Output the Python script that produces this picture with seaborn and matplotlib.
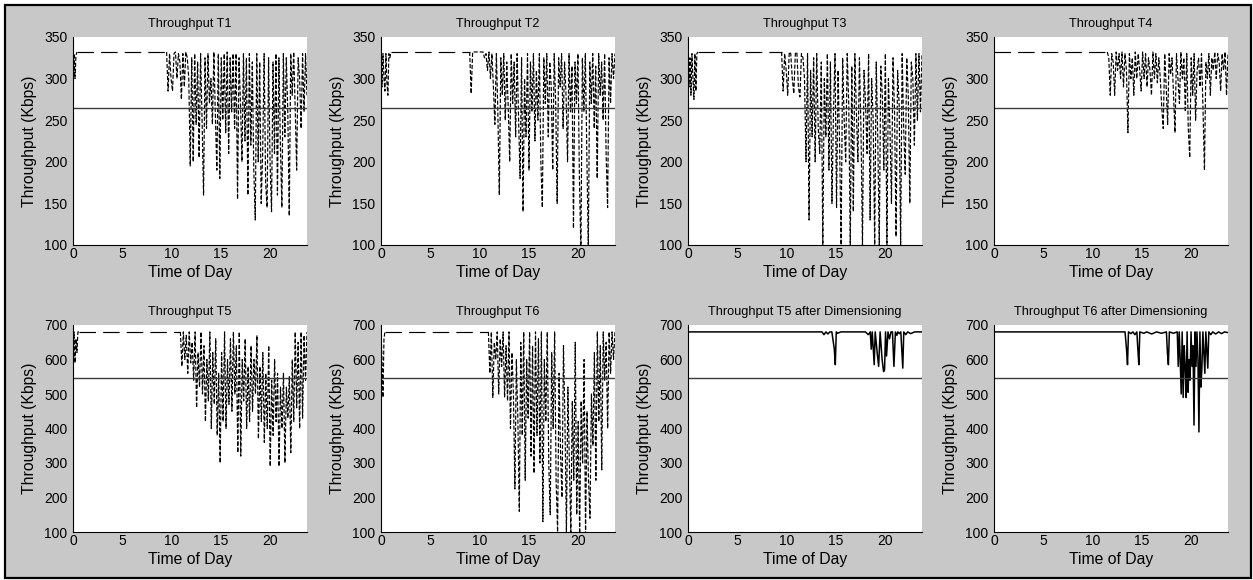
import numpy as np
import pandas as pd
import matplotlib
matplotlib.use("Agg")
import matplotlib.pyplot as plt
from matplotlib import font_manager
from matplotlib.patches import Rectangle
import seaborn as sns

# ---------------- data ----------------
XMAX = 23.75
TOP_BASE, TOP_LIMIT = 332, 265
BOT_BASE, BOT_LIMIT = 680, 545

titles = ["Throughput T1", "Throughput T2", "Throughput T3", "Throughput T4",
          "Throughput T5", "Throughput T6",
          "Throughput T5 after Dimensioning", "Throughput T6 after Dimensioning"]
xticks = [0, 5, 10, 15, 20]
top_yticks = [100, 150, 200, 250, 300, 350]
bot_yticks = [100, 200, 300, 400, 500, 600, 700]

# early-morning readings (every 0.1 h from midnight)
early_T1 = [280, 330, 300, 328, 332]
early_T2 = [330, 290, 330, 300, 285, 330, 295, 280, 330, 325, 332]
early_T3 = [330, 290, 325, 280, 330, 300, 275, 330, 285, 330, 332]
early_T4 = [332]
early_T5 = [600, 680, 590, 660, 620, 680, 680]
early_T6 = [680, 600, 490, 660, 680]

# busy-period readings (evenly spaced from start hour to end of day)
start_T1 = 9.5
busy_T1 = [332, 285, 330, 300, 285, 330, 332, 300, 330, 320, 275, 330, 290, 332, 325, 300,
           195, 325, 200, 330, 245, 320, 205, 330, 250, 160, 325, 240, 330, 270, 300, 245,
           332, 255, 190, 330, 180, 325, 250, 330, 235, 332, 210, 325, 260, 330, 240, 330,
           155, 325, 270, 200, 330, 225, 325, 160, 330, 220, 320, 190, 130, 330, 200, 320,
           150, 210, 330, 175, 145, 325, 200, 140, 320, 210, 330, 160, 325, 220, 145, 330,
           230, 325, 260, 135, 330, 280, 332, 265, 190, 325, 300, 240, 330, 260, 330, 280]

start_T2 = 9.0
busy_T2 = [332, 282, 332, 332, 332, 332, 332, 332, 332,
           332, 325, 330, 310, 332, 300, 330, 290, 245, 330, 260, 160, 325, 280, 330, 250,
           320, 265, 200, 330, 270, 320, 230, 330, 250, 180, 325, 140, 300, 230, 330, 190,
           320, 260, 330, 225, 310, 250, 330, 200, 145, 325, 270, 330, 230, 320, 290, 190,
           330, 270, 150, 325, 290, 330, 240, 320, 280, 200, 330, 260, 315, 120, 320, 270,
           330, 180, 95, 325, 260, 330, 210, 95, 320, 270, 330, 240, 315, 180, 330, 280,
           320, 250, 330, 210, 145, 325, 270, 330, 300, 330]

start_T3 = 9.5
busy_T3 = [332, 285, 330, 310, 280, 332, 330, 300, 282, 330, 332, 290, 278, 330, 325, 300,
           200, 330, 130, 310, 230, 325, 200, 330, 240, 210, 320, 100, 300, 230, 330, 190,
           320, 150, 260, 330, 145, 310, 220, 100, 325, 250, 200, 330, 270, 100, 315, 140,
           330, 260, 200, 325, 240, 100, 310, 270, 210, 330, 130, 300, 250, 100, 320, 230,
           100, 315, 280, 190, 330, 100, 300, 240, 150, 325, 260, 110, 310, 270, 100, 330,
           240, 185, 325, 280, 150, 320, 300, 220, 330, 250, 330, 260, 330]

start_T4 = 11.5
busy_T4 = [332, 325, 280, 330, 320, 280, 332, 310, 330, 300, 332, 290, 330, 310, 235, 330,
           300, 325, 280, 332, 300, 330, 310, 285, 332, 300, 330, 290, 325, 310, 280, 332,
           300, 330, 295, 325, 300, 265, 240, 330, 290, 245, 330, 305, 325, 280, 235, 330,
           300, 270, 332, 300, 325, 260, 330, 240, 205, 325, 280, 330, 250, 310, 325, 290,
           330, 265, 190, 320, 300, 330, 280, 325, 310, 332, 300, 330, 320, 285, 330, 310,
           332, 280, 330]

start_T5 = 10.9
busy_T5 = [680, 580, 680, 600, 670, 560, 680, 590, 650, 540, 680, 460, 620, 520, 680, 500,
           640, 420, 600, 480, 680, 400, 620, 470, 660, 380, 560, 300, 620, 420, 680, 400,
           600, 470, 660, 450, 680, 500, 640, 330, 680, 320, 600, 480, 660, 400, 580, 420,
           640, 450, 600, 500, 670, 370, 580, 420, 620, 360, 560, 400, 640, 290, 540, 380,
           600, 420, 560, 290, 520, 400, 560, 300, 520, 430, 550, 330, 600, 420, 680, 460,
           650, 400, 680, 430, 670, 540, 680]

start_T6 = 10.9
busy_T6 = [680, 560, 680, 490, 650, 600, 680, 500, 660, 580, 680, 490, 640, 480, 680, 400,
           620, 500, 225, 600, 430, 160, 650, 380, 680, 250, 600, 430, 680, 320, 640, 270,
           680, 380, 660, 300, 680, 130, 600, 420, 680, 300, 150, 620, 400, 680, 250, 100,
           560, 330, 200, 640, 420, 100, 520, 300, 100, 480, 250, 650, 150, 420, 95, 480,
           300, 600, 95, 450, 250, 140, 500, 350, 620, 250, 680, 420, 640, 280, 680, 540,
           650, 400, 680, 560, 680, 600, 680]

# after dimensioning: (hour, throughput) readings
dim_T5 = [(0, 680), (13.6, 680), (13.8, 672), (14.0, 680), (14.2, 674), (14.4, 680),
          (14.6, 680), (14.85, 630), (14.95, 585), (15.05, 680), (15.2, 676), (15.5, 680),
          (17.0, 680), (18.0, 680), (18.3, 672), (18.5, 680), (18.6, 630), (18.7, 680),
          (18.9, 585), (19.0, 680), (19.2, 620), (19.35, 580), (19.5, 680), (19.7, 600),
          (19.85, 565), (19.95, 570), (20.05, 680), (20.15, 610), (20.3, 680), (20.45, 660),
          (20.6, 680), (20.75, 680), (20.9, 580), (21.05, 680), (21.2, 670), (21.3, 680),
          (21.45, 675), (21.6, 680), (21.8, 575), (21.9, 680), (22.1, 672), (22.3, 680),
          (22.6, 675), (23.0, 680), (23.75, 680)]
dim_T6 = [(0, 680), (13.3, 680), (13.45, 630), (13.55, 585), (13.65, 680), (13.9, 675),
          (14.1, 680), (14.3, 672), (14.5, 680), (14.6, 630), (14.7, 585), (14.8, 680),
          (15.2, 676), (15.5, 680), (16.0, 674), (16.5, 680), (17.0, 676), (17.5, 680),
          (17.6, 620), (17.7, 585), (17.8, 680), (18.2, 676), (18.6, 680), (18.7, 580),
          (18.8, 680), (18.9, 600), (19.0, 500), (19.1, 680), (19.2, 490), (19.3, 640),
          (19.4, 580), (19.5, 490), (19.6, 680), (19.7, 505), (19.8, 600), (19.9, 540),
          (20.0, 680), (20.1, 580), (20.2, 640), (20.3, 410), (20.4, 680), (20.5, 580),
          (20.6, 680), (20.7, 600), (20.8, 390), (20.9, 680), (21.0, 520), (21.1, 575),
          (21.2, 680), (21.4, 560), (21.5, 680), (21.7, 575), (21.8, 680), (22.0, 672),
          (22.2, 680), (22.5, 674), (22.8, 680), (23.1, 675), (23.4, 680), (23.75, 678)]


def build(early, start, busy):
    """Return (early part, quiet baseline stretch, busy part) as data frames."""
    te = np.arange(len(early)) * 0.1
    tb = np.linspace(start, XMAX, len(busy))
    e = pd.DataFrame({"hour": te, "kbps": np.asarray(early, float)})
    b = pd.DataFrame({"hour": tb, "kbps": np.asarray(busy, float)})
    q = pd.DataFrame({"hour": [te[-1], tb[0]], "kbps": [early[-1], busy[0]]})
    return [("short", e), ("long", q), ("short", b)]


def build_pairs(pairs):
    return [("solid", pd.DataFrame(pairs, columns=["hour", "kbps"]))]


panels = [
    (build(early_T1, start_T1, busy_T1), "top"),
    (build(early_T2, start_T2, busy_T2), "top"),
    (build(early_T3, start_T3, busy_T3), "top"),
    (build(early_T4, start_T4, busy_T4), "top"),
    (build(early_T5, start_T5, busy_T5), "bot"),
    (build(early_T6, start_T6, busy_T6), "bot"),
    (build_pairs(dim_T5), "bot"),
    (build_pairs(dim_T6), "bot"),
]

# ---------------- styling ----------------
sns.set_theme(style="white")
plt.rcParams["font.family"] = ["Liberation Sans", "DejaVu Sans"]

try:
    font_manager.findfont("Liberation Sans Narrow", fallback_to_default=False)
    title_font = dict(family=["Liberation Sans Narrow", "Liberation Sans"], fontsize=11)
except Exception:
    title_font = dict(family=["Liberation Sans", "DejaVu Sans"], fontsize=9.2)

styles = {
    "short": dict(linewidth=0.85, linestyle=(0, (3.5, 1.6))),
    "long": dict(linewidth=0.85, linestyle=(0, (14, 6))),
    "solid": dict(linewidth=1.1, linestyle="-"),
}

W, H = 1253, 580
BG = "#c8c8c8"
fig = plt.figure(figsize=(W / 100, H / 100), dpi=100, facecolor="white")
fig.add_artist(Rectangle((5 / W, 2 / H), 1246 / W, 573 / H, transform=fig.transFigure,
                         facecolor=BG, edgecolor="black", linewidth=1.6, zorder=-10))

col_left = [73, 381, 688, 994]
ax_w = 234
rows = {"top": (37, 245), "bot": (325, 532)}

for i, (parts, row) in enumerate(panels):
    c = i % 4
    y0, y1 = rows[row]
    ax = fig.add_axes([col_left[c] / W, (H - y1) / H, ax_w / W, (y1 - y0) / H])
    ax.set_facecolor("white")
    for kind, df in parts:
        sns.lineplot(data=df, x="hour", y="kbps", ax=ax, color="black",
                     estimator=None, sort=False, **styles[kind])
    limit = TOP_LIMIT if row == "top" else BOT_LIMIT
    ax.axhline(limit, color="#3c3c3c", linewidth=1.0)

    ax.set_xlim(0, XMAX)
    if row == "top":
        ax.set_ylim(100, 350)
        ax.set_yticks(top_yticks)
    else:
        ax.set_ylim(100, 700)
        ax.set_yticks(bot_yticks)
    ax.set_xticks(xticks)

    for s in ["top", "right"]:
        ax.spines[s].set_visible(False)
    for s in ["left", "bottom"]:
        ax.spines[s].set_color("black")
        ax.spines[s].set_linewidth(0.8)
    ax.tick_params(axis="both", direction="in", length=3, width=0.8, colors="black",
                   labelsize=10)
    ax.tick_params(axis="x", pad=1.5)
    ax.tick_params(axis="y", pad=4)

    ax.set_title(titles[i], pad=7, color="black", **title_font)
    ax.set_xlabel("Time of Day", fontsize=11.3, labelpad=3, color="black")
    ax.set_ylabel("Throughput (Kbps)", fontsize=11.3, labelpad=5, color="black")

fig.savefig("out.png", dpi=100, facecolor=fig.get_facecolor())
